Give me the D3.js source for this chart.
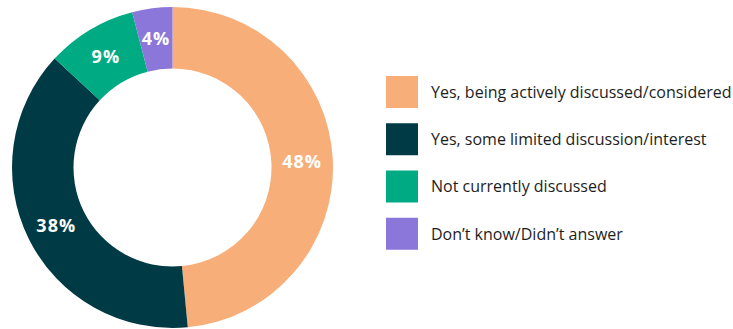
<!DOCTYPE html>
<html>
<head>
<meta charset="utf-8">
<script src="https://cdn.jsdelivr.net/npm/d3@7"></script>
<style>
  html, body { margin: 0; padding: 0; background: #fff; }
  svg { display: block; }
</style>
</head>
<body>
<svg id="chart" width="733" height="329"></svg>
<script>
// Survey responses
const categories = [
  "Yes, being actively discussed/considered",
  "Yes, some limited discussion/interest",
  "Not currently discussed",
  "Don\u2019t know/Didn\u2019t answer"
];
const values = [48, 38, 9, 4];
const colors = ["#F7AE78", "#003A44", "#00AB84", "#8B77D9"];

const svg = d3.select("#chart");
const cx = 172.5, cy = 167.5;
const outerR = 160.5, innerR = 99;

const data = categories.map((c, i) => ({ label: c, value: values[i], color: colors[i] }));

const pie = d3.pie().value(d => d.value).sort(null);
const arc = d3.arc().innerRadius(innerR).outerRadius(outerR);

const g = svg.append("g").attr("transform", `translate(${cx},${cy})`);
const arcs = pie(data);

g.selectAll("path.slice")
  .data(arcs)
  .join("path")
  .attr("class", "slice")
  .attr("d", arc)
  .attr("fill", d => d.data.color);

g.selectAll("text.pct")
  .data(arcs)
  .join("text")
  .attr("class", "pct")
  .attr("transform", d => `translate(${arc.centroid(d)})`)
  .attr("text-anchor", "middle")
  .attr("dy", "0.36em")
  .attr("fill", "#fff")
  .attr("font-family", "'Open Sans', sans-serif")
  .attr("font-weight", 700)
  .attr("font-size", 18)
  .attr("letter-spacing", 1)
  .text(d => d.data.value + "%");

// Legend
const legend = svg.append("g").attr("transform", "translate(386,76)");
const y = d3.scaleBand().domain(categories).range([0, 189]).paddingInner(0);
const items = legend.selectAll("g.item")
  .data(data)
  .join("g")
  .attr("class", "item")
  .attr("transform", d => `translate(0,${y(d.label)})`);

items.append("rect")
  .attr("width", 32)
  .attr("height", 32)
  .attr("fill", d => d.color);

items.append("text")
  .attr("x", 45)
  .attr("y", 16)
  .attr("dy", "0.36em")
  .attr("fill", "#1e1e1e")
  .attr("font-family", "'Open Sans', sans-serif")
  .attr("font-size", 16)
  .text(d => d.label);
</script>
</body>
</html>
